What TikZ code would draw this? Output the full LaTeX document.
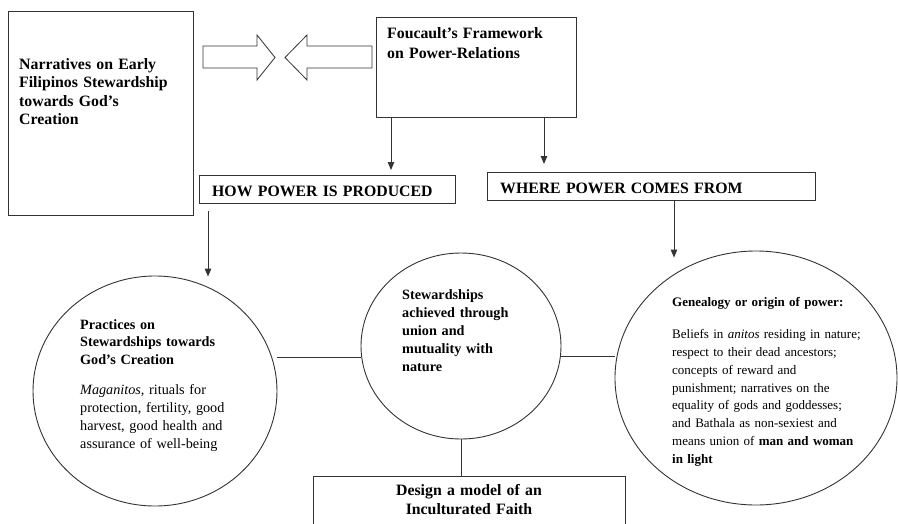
\documentclass[tikz,border=0pt]{standalone}
\usepackage{fontspec}
\setmainfont{Liberation Serif}
\usetikzlibrary{arrows.meta,shapes.geometric}
\begin{document}
\begin{tikzpicture}[x=1pt,y=-1pt,
  ln/.style={draw=black!80, line width=0.9pt},
  arr/.style={ln, -{Triangle[length=8pt,width=6.5pt]}},
  boxnode/.style={ln, rectangle, inner sep=0pt, anchor=north west},
  ell/.style={ln, ellipse, inner sep=0pt},
  bigtxt/.style={font=\fontsize{15.8}{18.5}\selectfont\bfseries, inner sep=0pt, anchor=base west, align=left, text width=#1},
  midtxt/.style={font=\fontsize{14.2}{17.8}\selectfont, inner sep=0pt, anchor=base west, align=left, text width=#1},
  smalltxt/.style={font=\fontsize{13}{17.9}\selectfont, inner sep=0pt, anchor=base west, align=left, text width=#1},
  blockarrow/.style={draw=black!80, line width=0.8pt, fill=white}
]
\useasboundingbox (0,0) rectangle (898,523);
\clip (0,0) rectangle (898,523);

% boxes
\node[boxnode, minimum width=185pt, minimum height=204pt] (nar) at (8,11) {};
\node[boxnode, minimum width=200pt, minimum height=100pt] (fou) at (376,17) {};
\node[boxnode, minimum width=256pt, minimum height=28pt] (how) at (199,175) {};
\node[boxnode, minimum width=328pt, minimum height=28pt] (where) at (487,172) {};
\node[boxnode, minimum width=312pt, minimum height=80pt] (bot) at (313,476) {};

% ellipses
\node[ell, minimum width=244pt, minimum height=230pt] (lc) at (155,391) {};
\node[ell, minimum width=200pt, minimum height=186pt] (mc) at (461,346) {};
\node[ell, minimum width=282pt, minimum height=254pt] (rc) at (756,378) {};

% texts
\node[bigtxt=180pt] (nartxt) at (19,69) {Narratives on Early\\Filipinos Stewardship\\towards God’s\\Creation};
\node[bigtxt=185pt, font=\fontsize{15.8}{20}\selectfont\bfseries] (foutxt) at (387,38) {Foucault’s Framework\\on Power-Relations};
\node[bigtxt=240pt] (howtxt) at (212,196) {HOW POWER IS PRODUCED};
\node[bigtxt=300pt] (wheretxt) at (500,193) {WHERE POWER COMES FROM};
\node[midtxt=190pt] (lctxt) at (80,329) {\textbf{Practices on}\\\textbf{Stewardships towards}\\\textbf{God’s Creation}\\[12.2pt]\textit{Maganitos}, rituals for\\protection, fertility, good\\harvest, good health and\\assurance of well-being};
\node[midtxt=150pt, font=\fontsize{14.2}{17.9}\selectfont\bfseries] (mctxt) at (402,299.5) {Stewardships\\achieved through\\union and\\mutuality with\\nature};
\node[smalltxt=215pt] (rctxt) at (672,306) {\textbf{Genealogy or origin of power:}\\[14.4pt]Beliefs in \textit{anitos} residing in nature;\\respect to their dead ancestors;\\concepts of reward and\\punishment; narratives on the\\equality of gods and goddesses;\\and Bathala as non-sexiest and\\means union of \textbf{man and woman}\\\textbf{in light}};
\node[font=\fontsize{15.8}{18.6}\selectfont\bfseries, inner sep=0pt, anchor=base, align=center, text width=300pt] (bottxt) at (469,495.7) {Design a model of an\\Inculturated Faith};

% block arrows
\path[blockarrow] (203,46) -- (257,46) -- (257,35) -- (275,57.5) -- (257,80) -- (257,68) -- (203,68) -- cycle;
\path[blockarrow] (372,46) -- (307,46) -- (307,35) -- (285,57.5) -- (307,80) -- (307,68) -- (372,68) -- cycle;

% connectors
\coordinate (xa) at (391,0);
\coordinate (xb) at (544,0);
\coordinate (xc) at (208,0);
\coordinate (xd) at (674,0);
\coordinate (ya) at (0,357);
\coordinate (yb) at (0,356);
\draw[arr, shorten >=5pt] (xa |- fou.south) -- (xa |- how.north);
\draw[arr, shorten >=8pt] (xb |- fou.south) -- (xb |- where.north);
\draw[arr, shorten <=7.5pt, shorten >=-1pt] (xc |- how.south) -- (xc |- lc.north);
\draw[arr, shorten >=-7pt] (xd |- where.south) -- (xd |- rc.north);
\draw[ln] (lc.east |- ya) -- (mc.west |- ya);
\draw[ln] (mc.east |- yb) -- (rc.west |- yb);
\draw[ln] (mc.south) -- (mc.south |- bot.north);
\end{tikzpicture}
\end{document}
